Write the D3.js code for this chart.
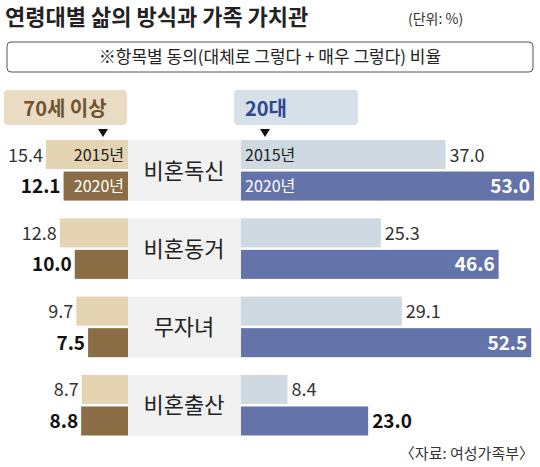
<!DOCTYPE html><html><head><meta charset="utf-8"><script src="https://cdn.jsdelivr.net/npm/d3@7"></script>
<style>body{margin:0;background:#fff}text{font-family:"Noto Sans CJK KR",sans-serif}</style></head><body><svg id="c" width="540" height="467"></svg>
<script>
const categories=["비혼독신","비혼동거","무자녀","비혼출산"];
const old2015=[15.4,12.8,9.7,8.7];
const old2020=[12.1,10.0,7.5,8.8];
const young2015=[37.0,25.3,29.1,8.4];
const young2020=[53.0,46.6,52.5,23.0];
const svg=d3.select("#c");
const C={lt:"#e4d4b2",dk:"#8b6d45",lb:"#cfd9e1",bl:"#6474aa"};
const xL=d3.scaleLinear().domain([0,15.4]).range([128,46]);
const xR=d3.scaleLinear().domain([0,53]).range([241,534]);
const rowY=d3.scaleBand().domain(categories).range([140,436]).paddingInner(0.22);
svg.append("text").attr("x",5).attr("y",25).attr("font-size",22).attr("font-weight",700).attr("fill","#222").text("연령대별 삶의 방식과 가족 가치관");
svg.append("text").attr("x",408).attr("y",24).attr("font-size",14).attr("fill","#333").text("(단위: %)");
svg.append("rect").attr("x",7).attr("y",42).attr("width",526).attr("height",30).attr("rx",4).attr("fill","#fff").attr("stroke","#555");
svg.append("text").attr("x",270).attr("y",63).attr("text-anchor","middle").attr("font-size",17).attr("fill","#222").text("※항목별 동의(대체로 그렇다 + 매우 그렇다) 비율");
svg.append("rect").attr("x",4).attr("y",90).attr("width",123).attr("height",35).attr("rx",4).attr("fill","#e9dcc3");
svg.append("text").attr("x",65).attr("y",116).attr("text-anchor","middle").attr("font-size",20).attr("font-weight",700).attr("fill","#6e5432").text("70세 이상");
svg.append("rect").attr("x",234).attr("y",90).attr("width",124).attr("height",35).attr("rx",4).attr("fill","#d5e0e8");
svg.append("text").attr("x",245).attr("y",116).attr("font-size",20).attr("font-weight",700).attr("fill","#2f4690").text("20대");
[[103],[265]].forEach(([x])=>svg.append("path").attr("d",`M${x-5},129L${x+5},129L${x},137Z`).attr("fill","#111"));
categories.forEach((c,i)=>{
  const y0=rowY(c),h=rowY.bandwidth(),bh=h/2-1.5,y1=y0,y2=y0+h/2+1;
  svg.append("rect").attr("x",128).attr("y",y0).attr("width",113).attr("height",h).attr("fill","#f1f1f1");
  svg.append("text").attr("x",184).attr("y",y0+h/2+8).attr("text-anchor","middle").attr("font-size",22).attr("fill","#222").text(c);
  svg.append("rect").attr("x",xL(old2015[i])).attr("y",y1).attr("width",128-xL(old2015[i])).attr("height",bh).attr("fill",C.lt);
  svg.append("rect").attr("x",xL(old2020[i])).attr("y",y2).attr("width",128-xL(old2020[i])).attr("height",bh).attr("fill",C.dk);
  svg.append("rect").attr("x",241).attr("y",y1).attr("width",xR(young2015[i])-241).attr("height",bh).attr("fill",C.lb);
  svg.append("rect").attr("x",241).attr("y",y2).attr("width",xR(young2020[i])-241).attr("height",bh).attr("fill",C.bl);
  svg.append("text").attr("x",xL(old2015[i])-3).attr("y",y1+bh/2+7).attr("text-anchor","end").attr("font-size",18).attr("fill","#333").text(old2015[i].toFixed(1));
  svg.append("text").attr("x",xL(old2020[i])-3).attr("y",y2+bh/2+7).attr("text-anchor","end").attr("font-size",19).attr("font-weight",700).attr("fill","#111").text(old2020[i].toFixed(1));
  svg.append("text").attr("x",xR(young2015[i])+4).attr("y",y1+bh/2+7).attr("font-size",18).attr("fill","#333").text(young2015[i].toFixed(1));
  const inside=xR(young2020[i])-241>200;
  svg.append("text").attr("x",inside?xR(young2020[i])-4:xR(young2020[i])+4).attr("y",y2+bh/2+7).attr("text-anchor",inside?"end":"start").attr("font-size",19).attr("font-weight",700).attr("fill",inside?"#fff":"#111").text(young2020[i].toFixed(1));
  if(i===0){
    svg.append("text").attr("x",124).attr("y",y1+bh/2+6).attr("text-anchor","end").attr("font-size",16).attr("fill","#222").text("2015년");
    svg.append("text").attr("x",124).attr("y",y2+bh/2+6).attr("text-anchor","end").attr("font-size",16).attr("fill","#fff").text("2020년");
    svg.append("text").attr("x",245).attr("y",y1+bh/2+6).attr("font-size",16).attr("fill","#222").text("2015년");
    svg.append("text").attr("x",245).attr("y",y2+bh/2+6).attr("font-size",16).attr("fill","#fff").text("2020년");
  }
});
svg.append("text").attr("x",534).attr("y",459).attr("text-anchor","end").attr("font-size",15).attr("fill","#333").text("〈자료: 여성가족부〉");
</script></body></html>
